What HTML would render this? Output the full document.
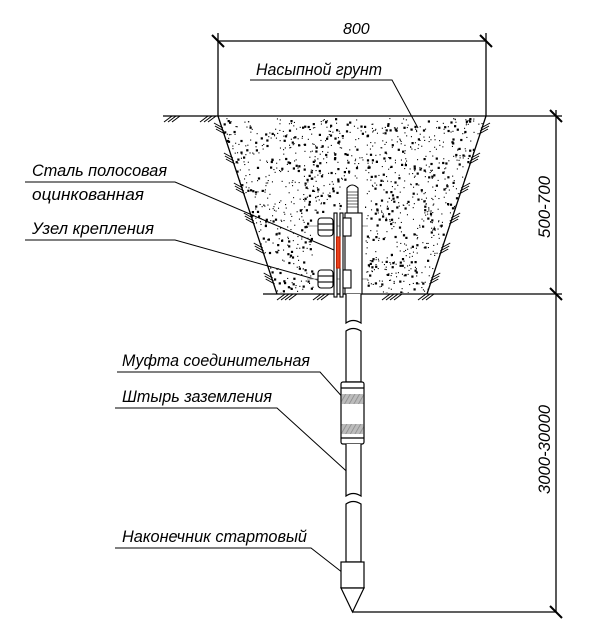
<!DOCTYPE html>
<html><head><meta charset="utf-8"><style>
html,body{margin:0;padding:0;background:#fff;}
svg{display:block;}
text{font-family:"Liberation Sans",sans-serif;font-style:italic;fill:#000;}
</style></head><body>
<svg id="s" width="600" height="632" viewBox="0 0 600 632" xmlns="http://www.w3.org/2000/svg">
<defs>
<clipPath id="tr"><polygon points="218,117 485,117 427,293 277,293"/></clipPath>
<pattern id="hz" width="4" height="4" patternUnits="userSpaceOnUse" patternTransform="rotate(30)"><rect width="4" height="4" fill="#bbb"/><line x1="0" y1="0" x2="0" y2="4" stroke="#888" stroke-width="1.5"/></pattern>
</defs>
<g id="dots" clip-path="url(#tr)"></g>
<g stroke="#000" fill="none" stroke-width="1.3">
<line x1="218" y1="41" x2="486" y2="41"/>
<line x1="218" y1="33" x2="218" y2="116"/>
<line x1="486" y1="33" x2="486" y2="116"/>
<line x1="212" y1="35" x2="224" y2="47" stroke-width="2"/>
<line x1="480" y1="35" x2="492" y2="47" stroke-width="2"/>
<line x1="163" y1="116" x2="562" y2="116"/>
<line x1="218" y1="116" x2="277" y2="294"/>
<line x1="486" y1="116" x2="427" y2="294"/>
<line x1="263" y1="294" x2="562" y2="294"/>
<line x1="556" y1="110" x2="556" y2="612"/>
<line x1="550" y1="110" x2="562" y2="122" stroke-width="2"/>
<line x1="550" y1="288" x2="562" y2="300" stroke-width="2"/>
<line x1="550" y1="606" x2="562" y2="618" stroke-width="2"/>
<line x1="353" y1="612" x2="556" y2="612"/>
<polyline points="250,80 392,80 418,128" stroke-width="1"/>
<polyline points="25,182 175,182 334,250" stroke-width="1"/>
<polyline points="25,240 175,240 325,282" stroke-width="1"/>
<polyline points="117,372 320,372 354,410" stroke-width="1"/>
<polyline points="115,408 277,408 354,478" stroke-width="1"/>
<polyline points="115,548 311,548 352,580" stroke-width="1"/>
</g>
<g id="hatch" stroke="#000" stroke-width="1"></g>
<g stroke="#000" fill="#fff" stroke-width="1.1">
<line x1="307" y1="226" x2="368" y2="226" stroke="#999"/>
<line x1="307" y1="279" x2="368" y2="279" stroke="#999"/>
<path d="M347,213 L347,188 Q352,182 358,188 L358,213 Z"/>
<g stroke-width="0.6"><line x1="347" y1="192" x2="358" y2="192"/><line x1="347" y1="195" x2="358" y2="195"/><line x1="347" y1="198" x2="358" y2="198"/><line x1="347" y1="201" x2="358" y2="201"/><line x1="347" y1="204" x2="358" y2="204"/><line x1="347" y1="207" x2="358" y2="207"/></g>
<rect x="345" y="213" width="17" height="81"/>
<rect x="334" y="213" width="3" height="84"/>
<rect x="340" y="213" width="3" height="84"/>
<rect x="336.5" y="237" width="3.5" height="31" fill="#e8401c" stroke="#c02000"/>
<rect x="318" y="218" width="15" height="18" rx="3"/>
<rect x="318" y="270" width="15" height="18" rx="3"/>
<line x1="318" y1="224" x2="333" y2="224"/><line x1="318" y1="230" x2="333" y2="230"/>
<line x1="318" y1="276" x2="333" y2="276"/><line x1="318" y1="282" x2="333" y2="282"/>
<rect x="343" y="218" width="8" height="18"/>
<rect x="343" y="270" width="8" height="18"/>
</g>
<g stroke="#000" fill="#fff" stroke-width="1.2">
<path d="M346,294 L346,323 Q353,318 361,323 L361,294"/>
<path d="M346,331 Q353,326 361,331 L361,382 L346,382 Z"/>
<rect x="341" y="382" width="23" height="62" rx="2"/>
<line x1="341" y1="388" x2="364" y2="388"/><line x1="341" y1="438" x2="364" y2="438"/>
<rect x="341.5" y="394" width="22" height="10" fill="url(#hz)" stroke="none"/>
<rect x="341.5" y="424" width="22" height="10" fill="url(#hz)" stroke="none"/>
<path d="M346,444 L346,496 Q353,491 361,496 L361,444"/>
<path d="M346,504 Q353,499 361,504 L361,562 L346,562 Z"/>
<rect x="341" y="562" width="23" height="26"/>
<polygon points="341,588 364,588 352.5,612"/>
</g>
<g font-size="17">
<text x="343" y="34" font-size="16">800</text>
<text x="256" y="75" textLength="126" lengthAdjust="spacingAndGlyphs">Насыпной грунт</text>
<text x="32" y="176" textLength="135" lengthAdjust="spacingAndGlyphs">Сталь полосовая</text>
<text x="32" y="200" textLength="112" lengthAdjust="spacingAndGlyphs">оцинкованная</text>
<text x="32" y="234" textLength="122" lengthAdjust="spacingAndGlyphs">Узел крепления</text>
<text x="122" y="366" textLength="188" lengthAdjust="spacingAndGlyphs">Муфта соединительная</text>
<text x="122" y="402" textLength="150" lengthAdjust="spacingAndGlyphs">Штырь заземления</text>
<text x="122" y="542" textLength="185" lengthAdjust="spacingAndGlyphs">Наконечник стартовый</text>
<text transform="translate(550,238) rotate(-90)" textLength="62" lengthAdjust="spacingAndGlyphs">500-700</text>
<text transform="translate(550,494) rotate(-90)" textLength="89" lengthAdjust="spacingAndGlyphs">3000-30000</text>
</g>
</svg>
<script>
(function(){
var g=document.getElementById("dots"),h=document.getElementById("hatch");
var s=12345;function r(){s=(s*16807)%2147483647;return s/2147483647;}
var out="";
for(var i=0;i<1700;i++){var x=218+r()*268,y=118+r()*175,sz=r()<0.3?2.2:1.1;
if(x>340&&x<364&&y>180)continue;if(x>314&&x<364&&y>212)continue;
out+='<rect x="'+x.toFixed(1)+'" y="'+y.toFixed(1)+'" width="'+sz+'" height="'+sz+'" fill="#000"/>';}
g.innerHTML=out;
var hs="";
function grp(x,y,dx,dy,n){for(var k=0;k<n;k++){var ox=x+k*dx,oy=y+k*dy;hs+='<line x1="'+ox+'" y1="'+oy+'" x2="'+(ox+8)+'" y2="'+(oy-6)+'"/>';}}
function grpL(x,y,n){for(var k=0;k<n;k++){var ox=x+k*1,oy=y+k*3;hs+='<line x1="'+ox+'" y1="'+oy+'" x2="'+(ox-9)+'" y2="'+(oy-5)+'"/>';}}
function grpR(x,y,n){for(var k=0;k<n;k++){var ox=x-k*1,oy=y+k*3;hs+='<line x1="'+ox+'" y1="'+oy+'" x2="'+(ox+9)+'" y2="'+(oy-5)+'"/>';}}
grp(164,122,4,0,3);grp(200,122,4,0,3);
for(var t=0;t<6;t++){var yy=128+t*30;grpL(218+(yy-116)*59/178+1,yy,3);grpR(486-(yy-116)*59/178-1,yy,3);}
grp(277,300,4,0,4);grp(313,300,4,0,3);grp(382,300,4,0,4);grp(418,300,4,0,3);
h.innerHTML=hs;
})();
</script>
</body></html>
